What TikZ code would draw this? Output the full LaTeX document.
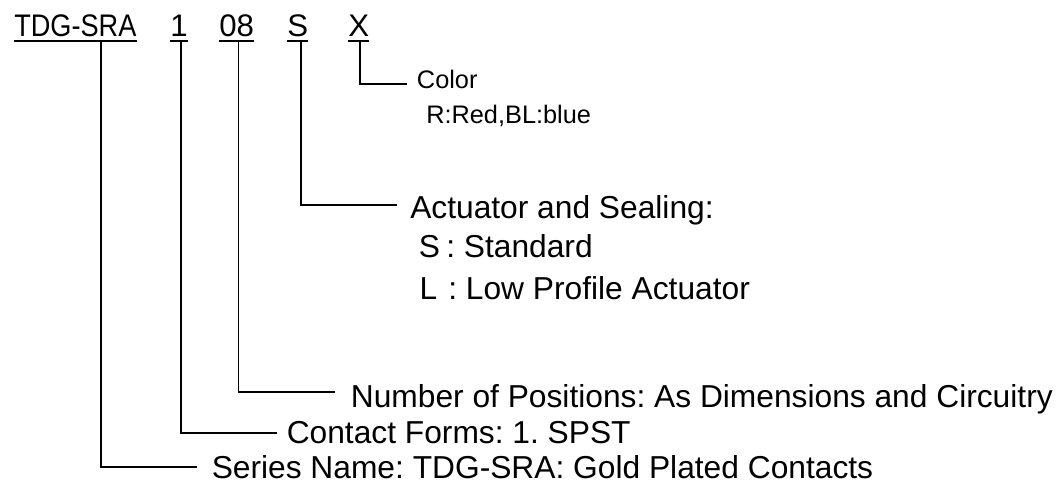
\documentclass[tikz,border=0pt]{standalone}
\usepackage{fontspec}
\setmainfont{Liberation Sans}
\frenchspacing
\begin{document}
\begin{tikzpicture}[x=0.75pt,y=-0.75pt,
  big/.style={anchor=base west,inner sep=0pt,font=\fontsize{23.8pt}{28pt}\selectfont},
  small/.style={anchor=base west,inner sep=0pt,font=\fontsize{19pt}{23pt}\selectfont},
  top/.style={anchor=base west,inner sep=0pt,font=\fontsize{23.4pt}{28pt}\selectfont},
  uline/.style={line width=1.6pt},
  conn/.style={line width=1.2pt}]
\useasboundingbox (0,0) rectangle (1060,482);
% top code
\node[top] (tdg) at (14,36) {\scalebox{0.87}[1]{TDG-SRA}};
\node[top] (one) at (170,36) {1};
\node[top] (pos) at (219,36) {08};
\node[top] (act) at (287,36) {S};
\node[top] (col) at (348,36) {X};
\foreach \n in {tdg,one,pos,act,col}
  \draw[uline] ([yshift=-5*0.75pt]\n.base west) -- ([yshift=-5*0.75pt]\n.base east);
% labels
\node[small] (colt) at (416.7,88) {Color};
\node[small] (colv) at (426,123) {R:Red,BL:blue};
\node[big] (actt) at (410,218) {Actuator and Sealing:};
\node[big] (actS) at (418.5,257) {S};
\node[big] (actSd) at (446,257) {: Standard};
\node[big] (actL) at (419.4,299) {L};
\node[big] (actLd) at (448,299) {: Low Profile Actuator};
\node[big] (numt) at (350.6,407) {Number of Positions: As Dimensions and Circuitry};
\node[big] (cont) at (286.5,443) {Contact Forms: 1. SPST};
\node[big] (sert) at (211.5,478) {Series Name: TDG-SRA: Gold Plated Contacts};
% connector ends
\coordinate (c1) at (360,41);   \coordinate (e1) at (407,84);
\coordinate (c2) at (300.7,41); \coordinate (e2) at (397,205);
\coordinate (c3) at (238.3,41); \coordinate (e3) at (335,391.7);
\coordinate (c4) at (180.7,41); \coordinate (e4) at (277,432.7);
\coordinate (c5) at (100.7,41); \coordinate (e5) at (197,466.7);
\foreach \i in {1,...,5}
  \draw[conn] (c\i) |- (e\i);
\end{tikzpicture}
\end{document}
